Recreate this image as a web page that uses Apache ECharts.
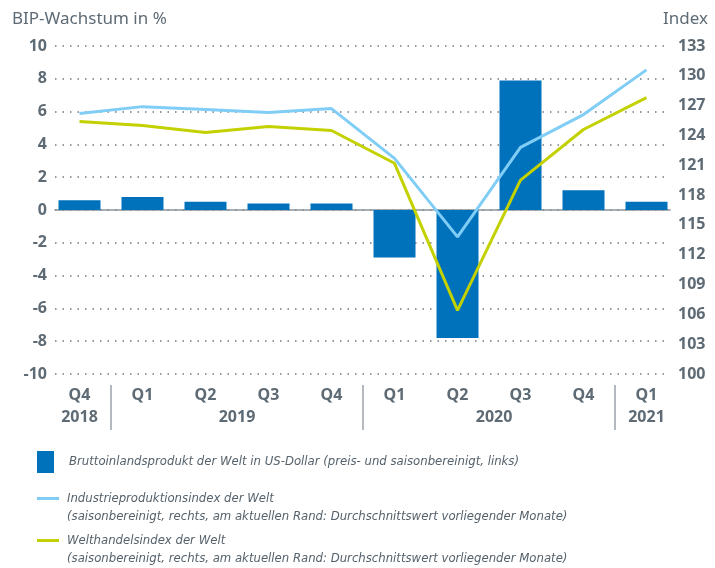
<!DOCTYPE html>
<html>
<head>
<meta charset="utf-8">
<title>BIP-Wachstum</title>
<script src="https://cdn.jsdelivr.net/npm/echarts@6/dist/echarts.min.js"></script>
<style>
  html, body { margin: 0; padding: 0; background: #fff; }
  #chart { width: 715px; height: 568px; }
</style>
</head>
<body>
<div id="chart"></div>
<script>
// Daten
var quartale = ['Q4', 'Q1', 'Q2', 'Q3', 'Q4', 'Q1', 'Q2', 'Q3', 'Q4', 'Q1'];
var jahre = ['2018', '2019', '2020', '2021'];
var jahrPos = [0.5, 3, 7.08, 9.5];      // Mitte der Jahresgruppen (in Quartalen)
var trenner = [1, 5, 9];                // Jahresgrenzen
var bip = [0.6, 0.8, 0.5, 0.4, 0.4, -2.9, -7.8, 7.9, 1.2, 0.5];
var industrie = [126.2, 126.9, 126.6, 126.3, 126.7, 121.7, 113.8, 122.8, 126.1, 130.6];
var welthandel = [125.4, 125.0, 124.3, 124.9, 124.5, 121.2, 106.4, 119.5, 124.6, 127.8];

var grau = '#5e6b75';
var font = 'Noto Sans';
var legFont = '"DejaVu Sans Condensed", Roboto, sans-serif';
var legText = { fontFamily: legFont, fontStyle: 'italic', fontSize: 13, color: '#55616b' };
var zusatz = '(saisonbereinigt, rechts, am aktuellen Rand: Durchschnittswert vorliegender Monate)';
var chart = echarts.init(document.getElementById('chart'));

var option = {
    animation: false,
    textStyle: { fontFamily: font, color: grau },
    grid: [
        // Daten
        { left: 48, right: 37, top: 46, bottom: 194 },
        // Hilfslinien + Achsenbeschriftung
        { left: 55, right: 45, top: 46, bottom: 194 }
    ],
    xAxis: [
        {
            type: 'category', gridIndex: 0, data: quartale,
            axisLine: { show: false, onZero: false },
            axisTick: { show: false },
            axisLabel: { margin: 13, fontSize: 16, fontWeight: 'bold', color: grau, interval: 0 }
        },
        {
            type: 'value', gridIndex: 0, min: 0, max: 10, position: 'bottom', offset: 11,
            axisLine: { show: false, onZero: false },
            splitLine: { show: false },
            axisTick: { show: true, customValues: trenner, length: 45, lineStyle: { color: '#9aa3aa', width: 1.5 } },
            axisLabel: {
                customValues: jahrPos, margin: 24, fontSize: 16, fontWeight: 'bold', color: grau,
                formatter: function (v) { return jahre[jahrPos.indexOf(v)]; }
            }
        },
        {
            type: 'value', gridIndex: 1, min: 0, max: 1,
            axisLine: { show: true, onZero: true, lineStyle: { color: '#8c959c', width: 1.5 } },
            axisTick: { show: false }, axisLabel: { show: false }, splitLine: { show: false }
        }
    ],
    yAxis: [
        { type: 'value', gridIndex: 0, min: -10, max: 10, interval: 2, show: false },
        { type: 'value', gridIndex: 0, min: 100, max: 133, interval: 3, show: false, position: 'right' },
        {
            type: 'value', gridIndex: 1, min: -10, max: 10, interval: 2,
            name: 'BIP-Wachstum in %', nameGap: 18,
            nameTextStyle: { fontSize: 17, color: grau, align: 'left', padding: [0, 0, 0, -43] },
            axisLine: { show: false }, axisTick: { show: false },
            axisLabel: { margin: 8, fontSize: 16, fontWeight: 'bold', color: grau },
            splitLine: { lineStyle: { color: '#6f7a83', type: [1.5, 6], width: 1.5 } }
        },
        {
            type: 'value', gridIndex: 1, min: 100, max: 133, interval: 3, position: 'right',
            name: 'Index', nameGap: 18,
            nameTextStyle: { fontSize: 17, color: grau, align: 'left', padding: [0, 0, 0, -7] },
            axisLine: { show: false }, axisTick: { show: false },
            axisLabel: { margin: 8, fontSize: 16, fontWeight: 'bold', color: grau },
            splitLine: { show: false }
        }
    ],
    legend: [
        {
            left: 37, top: 451, padding: 0, itemWidth: 17, itemHeight: 22,
            data: [{ name: 'Bruttoinlandsprodukt der Welt in US-Dollar (preis- und saisonbereinigt, links)', icon: 'rect' }],
            textStyle: Object.assign({ padding: [3, 0, 0, 10] }, legText)
        },
        {
            left: 37, top: 492, padding: 0, itemWidth: 22, itemHeight: 3,
            data: [{ name: 'Industrieproduktionsindex der Welt', icon: 'rect' }],
            textStyle: Object.assign({ padding: [0, 0, 0, 3] }, legText)
        },
        {
            left: 37, top: 534, padding: 0, itemWidth: 22, itemHeight: 3,
            data: [{ name: 'Welthandelsindex der Welt', icon: 'rect' }],
            textStyle: Object.assign({ padding: [0, 0, 0, 3] }, legText)
        }
    ],
    graphic: [
        {
            type: 'text', left: 67, top: 510,
            style: { text: zusatz, fontFamily: legFont, fontStyle: 'italic', fontSize: 13, fill: '#55616b' }
        },
        {
            type: 'text', left: 67, top: 552,
            style: { text: zusatz, fontFamily: legFont, fontStyle: 'italic', fontSize: 13, fill: '#55616b' }
        }
    ],
    series: [
        {
            name: 'Bruttoinlandsprodukt der Welt in US-Dollar (preis- und saisonbereinigt, links)',
            type: 'bar', xAxisIndex: 0, yAxisIndex: 0, data: bip,
            barWidth: 42, itemStyle: { color: '#0071bb' }, z: 2
        },
        {
            name: 'Industrieproduktionsindex der Welt',
            type: 'line', xAxisIndex: 0, yAxisIndex: 1, data: industrie,
            symbol: 'none', lineStyle: { color: '#80cdf5', width: 3 }, itemStyle: { color: '#80cdf5' }, z: 3
        },
        {
            name: 'Welthandelsindex der Welt',
            type: 'line', xAxisIndex: 0, yAxisIndex: 1, data: welthandel,
            symbol: 'none', lineStyle: { color: '#c3d100', width: 3 }, itemStyle: { color: '#c3d100' }, z: 3
        }
    ]
};
chart.setOption(option);
</script>
</body>
</html>
